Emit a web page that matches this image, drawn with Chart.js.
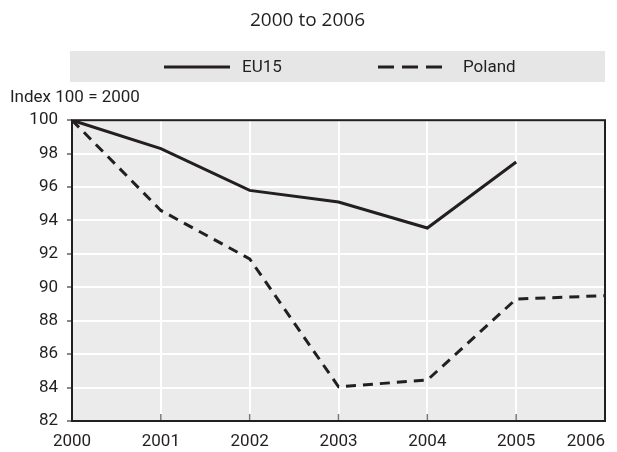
<!DOCTYPE html>
<html>
<head>
<meta charset="utf-8">
<script src="https://cdn.jsdelivr.net/npm/chart.js@4"></script>
<style>
  html, body { margin: 0; padding: 0; background: #fff; }
  #wrap { width: 617px; height: 452px; }
</style>
</head>
<body>
<div id="wrap"><canvas id="myChart"></canvas></div>
<script>
// data for the chart
var years = ['2000', '2001', '2002', '2003', '2004', '2005', '2006'];
var eu15 = [100, 98.3, 95.8, 95.1, 93.55, 97.5, null];
var poland = [100, 94.6, 91.7, 84.05, 84.45, 89.3, 89.5];
var yTicks = [82, 84, 86, 88, 90, 92, 94, 96, 98, 100];

var ink = '#231f20';
var cond = 'Roboto, "DejaVu Sans Condensed", sans-serif';

// grey panel behind the plot, frame, legend bar and the last x label
var decor = {
    id: 'decor',
    beforeDraw: function (chart) {
        var ctx = chart.ctx, a = chart.chartArea;
        ctx.save();
        ctx.fillStyle = '#ebebeb';
        ctx.fillRect(a.left, a.top, a.right - a.left, a.bottom - a.top);
        ctx.restore();
    },
    beforeDatasetsDraw: function (chart) {
        var ctx = chart.ctx, a = chart.chartArea, xs = chart.scales.x;
        ctx.save();
        // small inner ticks on the x axis
        ctx.strokeStyle = '#777777';
        ctx.lineWidth = 1.5;
        years.forEach(function (y, i) {
            var px = xs.getPixelForValue(i);
            ctx.beginPath();
            ctx.moveTo(px, a.bottom);
            ctx.lineTo(px, a.bottom - 7);
            ctx.stroke();
        });
        ctx.strokeStyle = ink;
        ctx.lineWidth = 2;
        ctx.strokeRect(a.left, a.top, a.right - a.left, a.bottom - a.top);
        ctx.restore();
    },
    afterDraw: function (chart) {
        var ctx = chart.ctx, a = chart.chartArea;
        ctx.save();
        // legend bar
        ctx.fillStyle = '#e6e6e6';
        ctx.fillRect(a.left - 2, 51, a.right - a.left + 2, 31);
        var items = [
            { x: a.left + 92, len: 66, gap: 12, text: chart.data.datasets[0].label, dash: [] },
            { x: a.left + 306, len: 64, gap: 21, text: chart.data.datasets[1].label, dash: [16, 8] }
        ];
        items.forEach(function (it) {
            ctx.strokeStyle = ink;
            ctx.lineWidth = 3;
            ctx.setLineDash(it.dash);
            ctx.beginPath();
            ctx.moveTo(it.x, 67);
            ctx.lineTo(it.x + it.len, 67);
            ctx.stroke();
            ctx.setLineDash([]);
            ctx.fillStyle = ink;
            ctx.font = '17px ' + cond;
            ctx.textBaseline = 'middle';
            ctx.textAlign = 'left';
            ctx.fillText(it.text, it.x + it.len + it.gap, 68);
        });
        // last year label sits flush with the right edge
        var xs = chart.scales.x;
        ctx.font = '17px ' + cond;
        ctx.textAlign = 'right';
        ctx.textBaseline = 'middle';
        ctx.fillStyle = ink;
        ctx.fillText(years[years.length - 1], xs.getPixelForValue(years.length - 1), a.bottom + 21);
        ctx.restore();
    }
};

const data = {
    labels: years,
    datasets: [
        {
            label: 'EU15',
            data: eu15,
            borderColor: ink,
            borderWidth: 3,
            pointRadius: 0,
            fill: false,
            spanGaps: false
        },
        {
            label: 'Poland',
            data: poland,
            borderColor: ink,
            borderWidth: 3,
            borderDash: [10, 7],
            pointRadius: 0,
            fill: false
        }
    ]
};

const config = {
    type: 'line',
    data: data,
    options: {
        responsive: true,
        maintainAspectRatio: false,
        animation: false,
        layout: { padding: { left: 10, right: 12, top: 0, bottom: 0 } },
        plugins: {
            legend: { display: false },
            tooltip: { enabled: false },
            title: {
                display: true,
                text: '2000 to 2006',
                color: ink,
                font: { family: '"Open Sans", sans-serif', size: 19, weight: 'normal' },
                padding: { top: 9, bottom: 56 }
            },
            subtitle: {
                display: true,
                text: 'Index 100 = 2000',
                align: 'start',
                color: ink,
                font: { family: cond, size: 17 },
                padding: { top: 0, bottom: 12 }
            }
        },
        scales: {
            x: {
                offset: false,
                afterFit: function (s) { s.height = 31; },
                grid: { color: '#ffffff', lineWidth: 2, drawTicks: false },
                border: { display: false },
                ticks: {
                    color: ink,
                    padding: 11,
                    maxRotation: 0,
                    autoSkip: false,
                    font: { family: cond, size: 17 },
                    callback: function (v, i) { return i === years.length - 1 ? '' : years[i]; }
                }
            },
            y: {
                min: yTicks[0],
                max: yTicks[yTicks.length - 1],
                afterFit: function (s) { s.width = 62; },
                afterBuildTicks: function (s) { s.ticks = yTicks.map(function (v) { return { value: v }; }); },
                grid: { color: '#ffffff', lineWidth: 2, tickColor: '#888888', tickLength: 5 },
                border: { display: false },
                ticks: {
                    color: ink,
                    padding: 9,
                    font: { family: cond, size: 17 }
                }
            }
        }
    },
    plugins: [decor]
};

const myChart = new Chart(document.getElementById('myChart'), config);
</script>
</body>
</html>
